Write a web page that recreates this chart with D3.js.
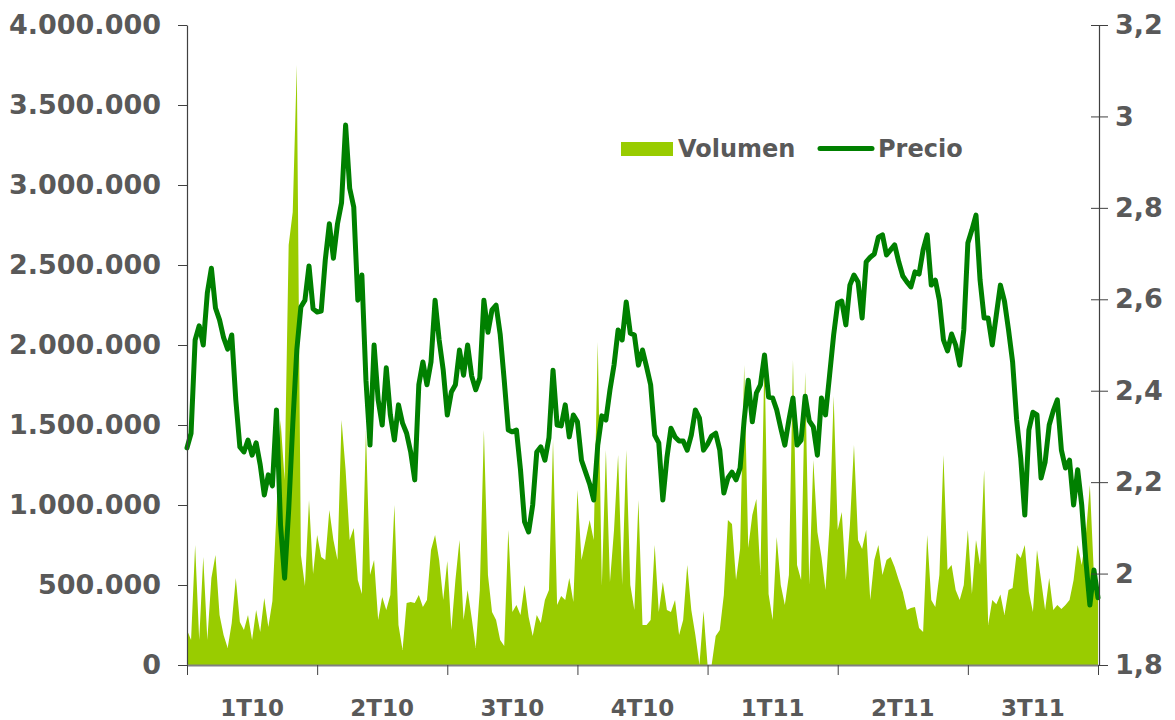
<!DOCTYPE html>
<html>
<head>
<meta charset="utf-8">
<script src="https://cdn.jsdelivr.net/npm/d3@7"></script>
<style>
  html, body { margin: 0; padding: 0; background: #ffffff; }
  svg { display: block; font-family: "DejaVu Sans", Verdana, sans-serif; font-weight: bold; }
</style>
</head>
<body>
<svg id="chart" width="1175" height="720"></svg>
<script>
// Volumen diario (miles de acciones) y precio de cierre, muestreado cada dos sesiones
const trimestres = ["1T10", "2T10", "3T10", "4T10", "1T11", "2T11", "3T11"];
const puntosPorTrimestre = 32;

const precio = [
    2.275, 2.307, 2.511, 2.542, 2.500, 2.614, 2.668, 2.581, 2.555, 2.516, 2.491, 2.522, 2.380, 2.277, 2.266, 2.292, 2.259, 2.286, 2.238, 2.172, 2.216, 2.192, 2.358, 2.106, 1.990, 2.139, 2.325, 2.489, 2.583, 2.598, 2.673, 2.579,
    2.572, 2.574, 2.686, 2.765, 2.690, 2.765, 2.811, 2.981, 2.843, 2.802, 2.598, 2.653, 2.423, 2.281, 2.500, 2.380, 2.325, 2.450, 2.347, 2.292, 2.369, 2.329, 2.307, 2.266, 2.205, 2.413, 2.463, 2.413, 2.463, 2.598, 2.511, 2.445,
    2.347, 2.397, 2.413, 2.489, 2.434, 2.500, 2.432, 2.402, 2.428, 2.598, 2.528, 2.577, 2.587, 2.524, 2.423, 2.314, 2.310, 2.314, 2.227, 2.113, 2.091, 2.150, 2.266, 2.277, 2.248, 2.297, 2.445, 2.325, 2.323, 2.369, 2.299, 2.347,
    2.332, 2.248, 2.222, 2.196, 2.161, 2.281, 2.345, 2.336, 2.402, 2.456, 2.533, 2.511, 2.594, 2.526, 2.522, 2.456, 2.489, 2.452, 2.413, 2.303, 2.286, 2.161, 2.253, 2.318, 2.299, 2.290, 2.290, 2.270, 2.303, 2.358, 2.340, 2.270,
    2.283, 2.301, 2.307, 2.270, 2.176, 2.209, 2.222, 2.205, 2.231, 2.336, 2.423, 2.332, 2.395, 2.413, 2.478, 2.386, 2.384, 2.358, 2.318, 2.281, 2.336, 2.384, 2.281, 2.292, 2.388, 2.334, 2.321, 2.259, 2.384, 2.347, 2.434, 2.522,
    2.592, 2.596, 2.544, 2.631, 2.653, 2.638, 2.559, 2.682, 2.692, 2.699, 2.736, 2.741, 2.697, 2.708, 2.719, 2.682, 2.651, 2.638, 2.627, 2.660, 2.655, 2.708, 2.741, 2.631, 2.642, 2.598, 2.511, 2.487, 2.524, 2.500, 2.456, 2.533,
    2.723, 2.752, 2.784, 2.642, 2.559, 2.559, 2.500, 2.566, 2.631, 2.596, 2.533, 2.463, 2.336, 2.253, 2.128, 2.314, 2.353, 2.347, 2.209, 2.244, 2.325, 2.356, 2.380, 2.270, 2.231, 2.248, 2.150, 2.227, 2.150, 2.030, 1.931, 2.008, 1.947
];

const volumenMiles = [
    219, 156, 750, 156, 675, 156, 544, 688, 313, 188, 106, 263, 544, 269, 219, 313, 156, 344, 206, 419, 238, 400, 956, 1531, 1156, 2625, 2831, 3750, 688, 494, 1031, 569,
    813, 675, 656, 969, 781, 656, 1531, 1219, 781, 856, 531, 444, 1469, 563, 656, 281, 425, 344, 438, 1000, 250, 94, 388, 394, 388, 438, 363, 406, 719, 813, 656, 406,
    650, 219, 531, 781, 281, 469, 294, 106, 469, 1469, 563, 331, 281, 156, 119, 844, 331, 375, 313, 500, 300, 181, 313, 263, 406, 469, 1406, 375, 431, 406, 544, 394,
    1094, 656, 781, 906, 781, 2019, 494, 1344, 519, 844, 1313, 500, 1344, 500, 344, 1031, 250, 250, 281, 750, 331, 519, 344, 331, 406, 188, 281, 625, 344, 188, 0, 338,
    0, 0, 181, 219, 438, 906, 881, 531, 725, 1875, 731, 938, 1038, 563, 1956, 444, 281, 800, 500, 375, 563, 1906, 625, 531, 1831, 500, 1281, 831, 675, 469, 875, 1681,
    844, 956, 531, 875, 1375, 781, 725, 844, 406, 656, 750, 563, 656, 675, 613, 531, 456, 344, 356, 363, 231, 206, 813, 406, 363, 563, 1313, 594, 625, 469, 406, 500,
    844, 444, 781, 625, 1219, 250, 406, 380, 440, 313, 469, 481, 700, 669, 750, 456, 331, 719, 531, 344, 544, 344, 375, 350, 375, 406, 531, 750, 625, 806, 1125, 563, 419
];

const volumenTicks = [0, 500, 1000, 1500, 2000, 2500, 3000, 3500, 4000];
const precioTicks = [1.8, 2.0, 2.2, 2.4, 2.6, 2.8, 3.0, 3.2];

const svg = d3.select("#chart");
const width = 1175;
const height = 720;
const margin = { top: 25, right: 77, bottom: 55, left: 187 };
const textColor = "#595959";

const es = d3.formatLocale({ decimal: ",", thousands: ".", grouping: [3], currency: ["", " €"] });
const fmtVol = es.format(",");
const fmtPrecio = es.format(".1~f");

const x = d3.scaleLinear()
    .domain([0, precio.length - 1])
    .range([margin.left, width - margin.right]);

const yVol = d3.scaleLinear()
    .domain([0, 4000])
    .range([height - margin.bottom, margin.top]);

const yPrecio = d3.scaleLinear()
    .domain([1.8, 3.2])
    .range([height - margin.bottom, margin.top]);

// area de volumen
const area = d3.area()
    .x(function (d, i) { return x(i); })
    .y0(yVol(0))
    .y1(function (d) { return yVol(d); });

svg.append("path")
    .datum(volumenMiles)
    .attr("d", area)
    .attr("fill", "#99cc00");

// linea de precio
const line = d3.line()
    .x(function (d, i) { return x(i); })
    .y(function (d) { return yPrecio(d); });

svg.append("path")
    .datum(precio)
    .attr("d", line)
    .attr("fill", "none")
    .attr("stroke", "#008000")
    .attr("stroke-width", 5)
    .attr("stroke-linejoin", "round")
    .attr("stroke-linecap", "round");

const styleLabels = function (g, size) {
    g.selectAll("text")
        .attr("fill", textColor)
        .attr("font-size", size)
        .attr("font-weight", "bold")
        .attr("font-family", "DejaVu Sans, Verdana, sans-serif");
};

// eje izquierdo
svg.append("g")
    .attr("transform", "translate(" + margin.left + ",0)")
    .call(d3.axisLeft(yVol)
        .tickValues(volumenTicks)
        .tickSize(9)
        .tickSizeOuter(0)
        .tickPadding(17)
        .tickFormat(function (d) { return fmtVol(d * 1000); }))
    .call(function (g) { g.select(".domain").attr("stroke", "#404040").attr("stroke-width", 1.2); })
    .call(function (g) { g.selectAll(".tick line").attr("stroke", "#404040"); })
    .call(styleLabels, "27px");

// eje derecho
const rightX = width - margin.right + 1;
svg.append("g")
    .attr("transform", "translate(" + rightX + ",0)")
    .call(d3.axisRight(yPrecio)
        .tickValues(precioTicks)
        .tickSize(9)
        .tickSizeOuter(0)
        .tickPadding(7)
        .tickFormat(fmtPrecio))
    .call(function (g) { g.select(".domain").attr("stroke", "#404040").attr("stroke-width", 1.2); })
    .call(function (g) { g.selectAll(".tick line").attr("x1", -8).attr("stroke", "#404040"); })
    .call(styleLabels, "27px");

// eje inferior (trimestres)
const cortes = d3.range(0, trimestres.length + 1).map(function (q) { return q * puntosPorTrimestre; });
svg.append("g")
    .attr("transform", "translate(0," + (height - margin.bottom) + ")")
    .call(d3.axisBottom(x)
        .tickValues(cortes)
        .tickSize(10)
        .tickSizeOuter(0)
        .tickFormat(""))
    .call(function (g) { g.select(".domain").attr("stroke", "#808080").attr("stroke-width", 2); })
    .call(function (g) { g.selectAll(".tick line").attr("stroke", "#404040"); });

svg.append("g")
    .selectAll("text")
    .data(trimestres)
    .enter()
    .append("text")
    .attr("x", function (d, i) { return x((i + 0.5) * puntosPorTrimestre); })
    .attr("y", 716)
    .attr("text-anchor", "middle")
    .attr("fill", textColor)
    .attr("font-size", "23px")
    .text(function (d) { return d; });

// leyenda
const legend = svg.append("g").attr("class", "legend");
legend.append("rect")
    .attr("x", 621)
    .attr("y", 142)
    .attr("width", 52)
    .attr("height", 14)
    .attr("fill", "#99cc00");
legend.append("text")
    .attr("x", 678)
    .attr("y", 157)
    .attr("fill", textColor)
    .attr("font-size", "24px")
    .text("Volumen");
legend.append("line")
    .attr("x1", 820)
    .attr("x2", 872)
    .attr("y1", 148.5)
    .attr("y2", 148.5)
    .attr("stroke", "#008000")
    .attr("stroke-width", 5)
    .attr("stroke-linecap", "round");
legend.append("text")
    .attr("x", 878)
    .attr("y", 157)
    .attr("fill", textColor)
    .attr("font-size", "24px")
    .text("Precio");
</script>
</body>
</html>
